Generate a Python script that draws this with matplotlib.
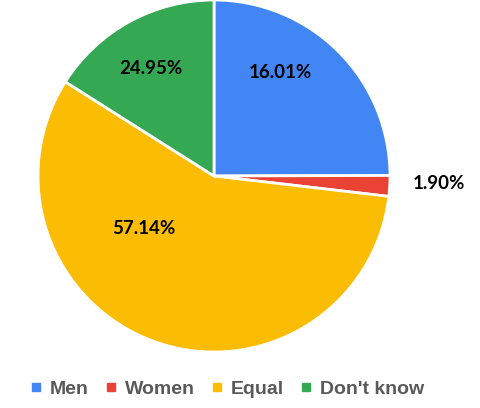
import matplotlib.pyplot as plt
from matplotlib.lines import Line2D

categories = ['Men', 'Women', 'Equal', "Don't know"]
shares = [24.95, 1.90, 57.14, 16.01]
shown_labels = ['16.01%', '1.90%', '57.14%', '24.95%']
colors = ['#4285F4', '#EA4335', '#FBBC04', '#34A853']

fig = plt.figure(figsize=(4.81, 4.08), dpi=100)
ax = fig.add_axes([38 / 481, 56 / 408, 352 / 481, 352 / 408])

wedges, _ = ax.pie(shares, colors=colors, startangle=90, counterclock=False,
                   wedgeprops={'edgecolor': 'white', 'linewidth': 2})
ax.set_xlim(-1, 1)
ax.set_ylim(-1, 1)
ax.set_aspect('equal')

# label spots as the original chart put them
label_pos = [(0.375, 0.59), (1.278, -0.04), (-0.40, -0.30), (-0.36, 0.61)]
for txt, (x, y) in zip(shown_labels, label_pos):
    ax.text(x, y, txt, ha='center', va='center', fontsize=13.5,
            fontweight='bold', family='Lato', color='black')

handles = [Line2D([], [], marker='s', linestyle='', color=c, markersize=5.5)
           for c in colors]
leg = fig.legend(handles, categories, loc='center', ncol=4,
                 bbox_to_anchor=(227 / 481, 1 - 389 / 408), frameon=False,
                 handlelength=0.6, handletextpad=0.4, columnspacing=0.85,
                 prop={'family': 'Liberation Sans', 'weight': 'bold', 'size': 14})
for t in leg.get_texts():
    t.set_color('#595959')

fig.savefig('out.png', dpi=100)
